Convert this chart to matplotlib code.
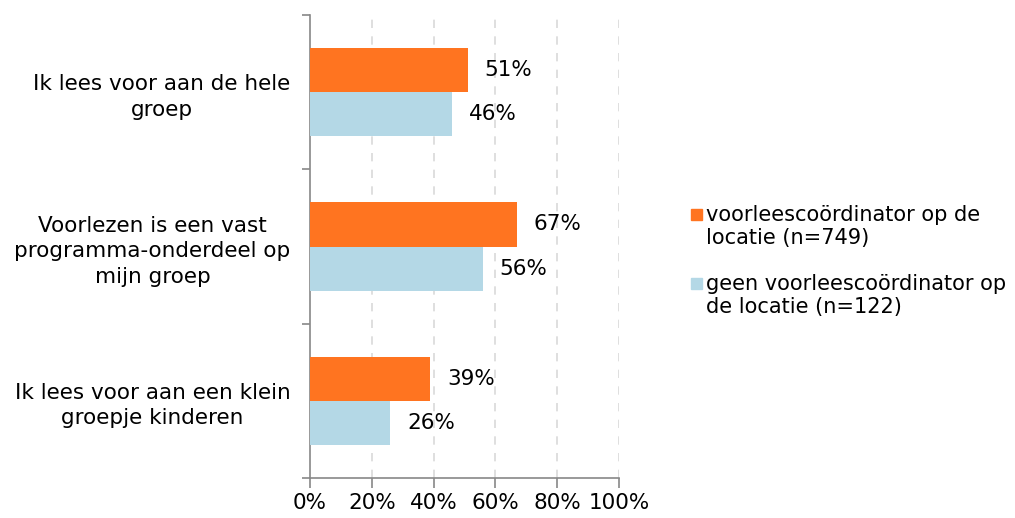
import numpy as np
import matplotlib.pyplot as plt
from matplotlib.patches import Rectangle

categories = ["Ik lees voor aan de hele\ngroep",
              "Voorlezen is een vast\nprogramma-onderdeel op\nmijn groep",
              "Ik lees voor aan een klein\ngroepje kinderen"]
met_coord = [51, 67, 39]
zonder_coord = [46, 56, 26]
series_labels = ["voorleescoördinator op de\nlocatie (n=749)",
                 "geen voorleescoördinator op\nde locatie (n=122)"]
xticks = [0, 20, 40, 60, 80, 100]

orange = '#FF7420'
blue = '#B4D8E6'
fs = 15.5

plt.rcParams['font.family'] = ['DejaVu Sans']

W, H = 1015, 518
fig = plt.figure(figsize=(W / 100, H / 100), dpi=100)
ax = fig.add_axes([0.3054, 0.0772, 0.3044, 0.8938])

y = np.arange(len(categories))
h = 0.287
ax.barh(y - h / 2, met_coord, height=h, color=orange, zorder=3)
ax.barh(y + h / 2, zonder_coord, height=h, color=blue, zorder=3)

for yi, v in zip(y, met_coord):
    ax.annotate(f"{v}%", (v, yi - h / 2), xytext=(12, 0), textcoords='offset points',
                va='center', ha='left', fontsize=fs)
for yi, v in zip(y, zonder_coord):
    ax.annotate(f"{v}%", (v, yi + h / 2), xytext=(12, 0), textcoords='offset points',
                va='center', ha='left', fontsize=fs)

ax.set_xlim(0, 100)
ax.set_ylim(2.5, -0.5)
ax.set_xticks(xticks)
ax.set_xticklabels([f"{t}%" for t in xticks], fontsize=fs)

# category ticks at group boundaries, labels at centres
ax.set_yticks([-0.5, 0.5, 1.5, 2.5])
ax.set_yticklabels([])
ax.set_yticks(y, minor=True)
ax.set_yticklabels(categories, minor=True, fontsize=fs, multialignment='center',
                   linespacing=1.35)
ax.tick_params(axis='y', which='minor', length=0, pad=14)
ax.tick_params(axis='y', which='major', length=6, color='#888888', width=1.2)
ax.tick_params(axis='x', length=7, color='#888888', width=1.2, pad=4)

for x in xticks[1:]:
    ax.axvline(x, color='#D9D9D9', linestyle=(0, (5, 5)), linewidth=1.2, zorder=1)

for s in ['top', 'right']:
    ax.spines[s].set_visible(False)
for s in ['left', 'bottom']:
    ax.spines[s].set_color('#888888')
    ax.spines[s].set_linewidth(1.2)

# legend drawn by hand so the swatch sits on the first text line
for i, (lab, col) in enumerate(zip(series_labels, [orange, blue])):
    top = 205 + i * 69
    fig.patches.append(Rectangle((691 / W, 1 - (top + 15) / H), 11 / W, 11 / H,
                                 transform=fig.transFigure, color=col))
    fig.text(706 / W, 1 - top / H, lab, fontsize=15, va='top', ha='left',
             linespacing=1.2)

fig.savefig("out.png", dpi=100)
